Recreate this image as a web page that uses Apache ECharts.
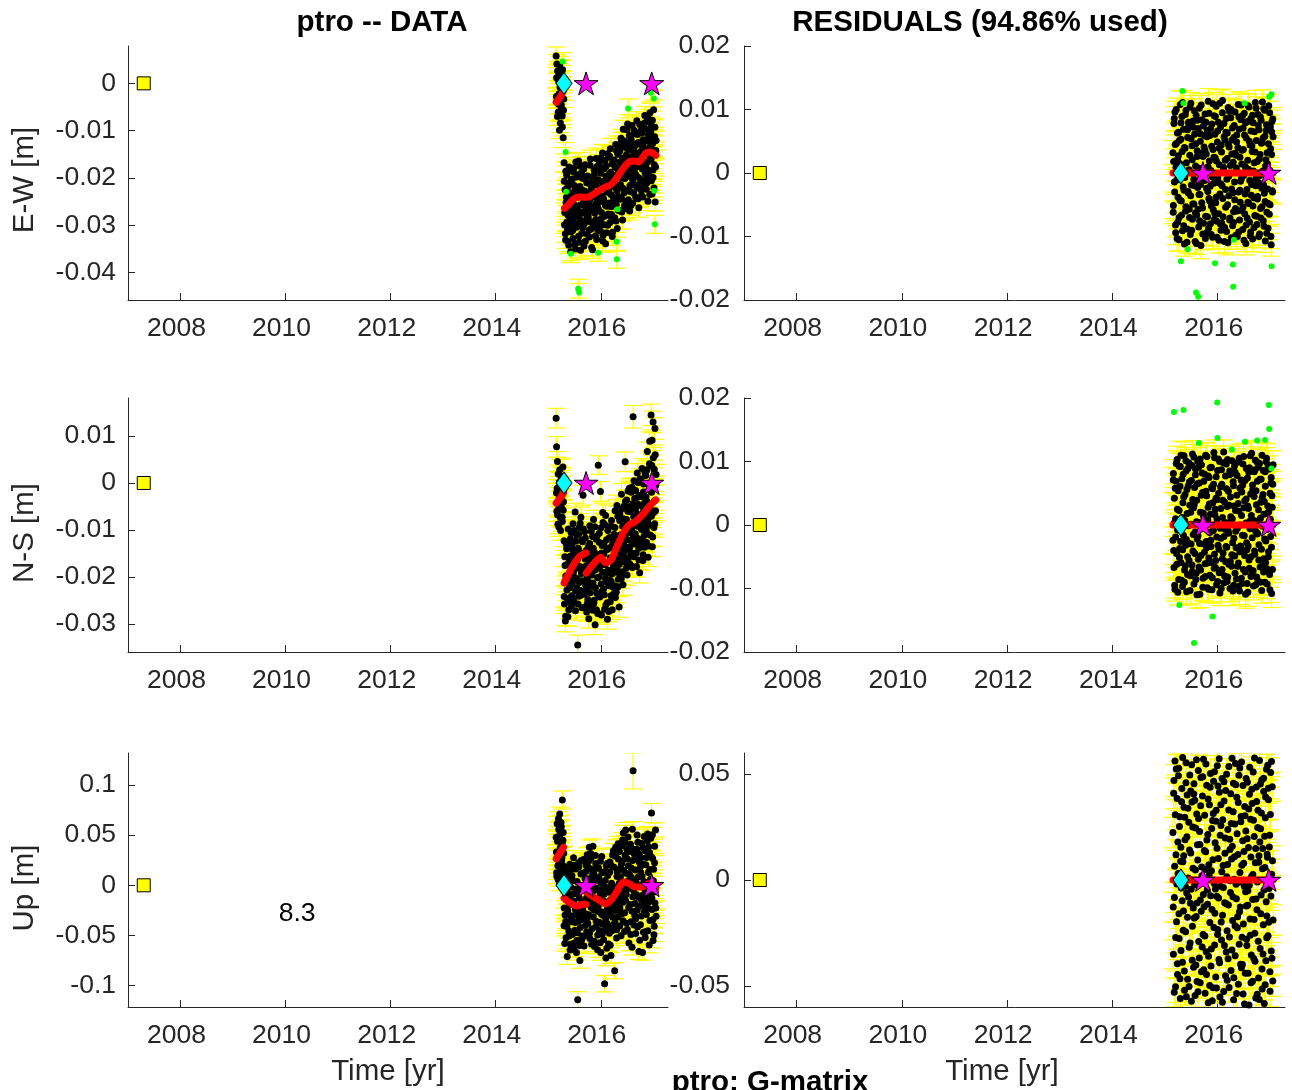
<!DOCTYPE html>
<html>
<head>
<meta charset="utf-8">
<script src="https://cdn.jsdelivr.net/npm/echarts@6/dist/echarts.min.js"></script>
<style>
  html, body { margin: 0; padding: 0; background: #ffffff; }
  #chart { width: 1292px; height: 1090px; }
</style>
</head>
<body>
<div id="chart"></div>
<script>
// ---------------------------------------------------------------
// Station ptro: GPS positions (E-W, N-S, Up) and fit residuals
// ---------------------------------------------------------------
const STATION = 'ptro';
const USED_PERCENT = '94.86';
const COMPONENT_NAMES = ['E-W [m]', 'N-S [m]', 'Up [m]'];
const TIME_LABEL = 'Time [yr]';
const UP_NOTE = '8.3';
const UP_NOTE_AT = [2010.22, -0.028];

// epochs, days counted from 2015-01-01
const epochDay = [
  55, 58, 62, 65, 69, 73, 76, 80, 84, 87,
  91, 95, 98, 102, 106, 110, 113, 117, 121, 124,
  128, 132, 135, 139, 143, 146, 150, 154, 157, 161,
  165, 168, 172, 176, 179, 183, 187, 190, 194, 198,
  201, 205, 209, 212, 216, 220, 223, 227, 231, 234,
  238, 242, 245, 249, 253, 256, 260, 264, 267, 271,
  275, 278, 282, 286, 289, 293, 297, 300, 304, 308,
  311, 315, 319, 322, 326, 330, 333, 337, 341, 344,
  348, 352, 355, 359, 363, 366, 370, 374, 377, 381,
  385, 388, 392, 396, 399, 403, 407, 410, 414, 418,
  421, 425, 429, 432, 436, 440, 443, 447, 451, 454,
  458, 462, 465, 469, 473, 476, 480, 484, 487, 491,
  495, 498, 502, 506, 509, 513, 517, 520, 524, 528,
  531, 535, 539, 542, 546, 550, 553, 557, 561, 564,
  568, 572, 575, 579, 583, 586, 590, 594, 597, 601,
  605, 608, 612, 616, 619, 623, 627, 630, 634, 638,
  641, 645, 649, 652, 656, 660, 663, 667, 671, 674,
  678, 682, 685, 689, 693, 696, 700, 704, 707, 711,
  715, 718, 722, 726, 729, 733, 737, 740, 744, 748,
  57, 60, 64, 67, 71, 74, 78, 82, 86, 89,
  93, 97, 100, 104, 108, 111, 115, 119, 122, 126,
  130, 134, 137, 141, 145, 148, 152, 156, 159, 163,
  167, 170, 174, 178, 181, 185, 189, 192, 196, 200,
  203, 207, 211, 214, 218, 222, 225, 229, 233, 236,
  240, 244, 247, 251, 255, 258, 262, 266, 269, 273,
  277, 280, 284, 288, 291, 295, 299, 302, 306, 310,
  313, 317, 321, 324, 328, 332, 335, 339, 343, 346,
  350, 354, 357, 361, 365, 368, 372, 376, 379, 383,
  387, 390, 394, 398, 401, 405, 409, 412, 416, 420,
  423, 427, 431, 434, 438, 442, 445, 449, 453, 456,
  460, 464, 467, 471, 475, 478, 482, 486, 489, 493,
  497, 500, 504, 508, 511, 515, 519, 522, 526, 530,
  533, 537, 541, 544, 548, 552, 555, 559, 563, 566,
  570, 574, 577, 581, 585, 588, 592, 596, 599, 603,
  607, 610, 614, 618, 621, 625, 629, 632, 636, 640,
  643, 647, 651, 654, 658, 662, 665, 669, 673, 676,
  680, 684, 687, 691, 695, 698, 702, 706, 709, 713,
  717, 720, 724, 728, 731, 735, 739, 742, 746, 750
];

// positions (mm)
const ewData = [
  5.8, 1.2, -3.5, 2.6, -6.1, 0.4, -2.2, 3.9, -8.4, -1.0,
  -4.6, 1.8, -9.2, -0.3, -5.7, -16.8, -29.9, -22.5, -33.1, -25.2,
  -19.4, -30.6, -27.8, -21.3, -34.2, -24.9, -28.7, -18.5, -31.4, -23.6,
  -27.1, -20.2, -32.8, -25.5, -17.9, -29.6, -22.4, -35.0, -26.3, -19.8,
  -30.1, -23.0, -27.9, -16.4, -33.6, -21.8, -25.7, -29.2, -18.9, -31.7,
  -22.6, -27.4, -20.1, -34.4, -24.5, -17.2, -29.0, -26.1, -21.0, -31.9,
  -19.6, -28.3, -23.3, -32.5, -25.9, -16.0, -30.8, -22.2, -27.0, -35.2,
  -21.5, -26.7, -18.3, -30.3, -24.1, -28.8, -15.9, -33.0, -22.9, -26.2,
  -20.4, -29.5, -16.9, -25.0, -31.2, -19.0, -27.3, -23.8, -14.7, -32.1,
  -24.4, -18.1, -28.1, -21.2, -33.9, -17.5, -26.0, -22.7, -30.0, -15.6,
  -25.3, -19.2, -29.4, -13.8, -23.5, -27.7, -17.0, -31.5, -20.6, -24.8,
  -16.2, -28.4, -22.0, -12.9, -25.6, -19.4, -30.7, -15.0, -23.9, -18.6,
  -26.9, -14.3, -21.4, -11.6, -24.2, -17.8, -28.9, -13.1, -20.0, -23.1,
  -12.2, -22.8, -16.4, -26.5, -9.8, -19.7, -14.0, -24.6, -18.2, -11.0,
  -21.6, -13.4, -25.8, -17.1, -8.9, -20.3, -15.3, -23.2, -10.7, -18.8,
  -14.6, -24.0, -19.5, -7.9, -17.6, -22.1, -12.5, -26.3, -15.8, -10.2,
  -20.9, -13.0, -23.7, -9.4, -17.3, -11.9, -21.2, -15.1, -6.8, -19.0,
  -12.0, -22.4, -8.1, -16.7, -24.9, -10.9, -18.4, -13.6, -6.2, -20.5,
  -16.1, -9.0, -23.4, -12.7, -19.9, -5.6, -17.2, -11.3, -25.1, -14.2,
  -2.8, 4.1, -7.0, 0.9, -4.4, 2.3, -9.9, -0.8, 3.0, -5.5,
  0.6, -6.9, 2.9, -11.5, -3.3, -20.7, -27.3, -31.8, -18.6, -24.1,
  -29.3, -22.0, -33.5, -26.4, -17.7, -30.0, -23.2, -35.6, -20.5, -27.5,
  -23.9, -31.1, -18.7, -28.2, -21.6, -34.0, -25.9, -16.6, -30.4, -22.7,
  -26.8, -19.3, -32.3, -24.0, -28.6, -17.5, -35.3, -22.5, -27.2, -20.0,
  -30.5, -25.3, -18.1, -29.7, -22.8, -33.4, -26.6, -19.7, -28.0, -23.7,
  -27.7, -21.1, -31.0, -24.7, -17.3, -29.3, -22.9, -34.7, -26.0, -20.3,
  -29.8, -23.1, -19.2, -27.4, -32.2, -21.4, -25.3, -17.6, -30.9, -24.3,
  -26.7, -18.2, -30.1, -22.1, -15.8, -28.6, -24.9, -20.8, -33.3, -17.9,
  -21.9, -29.9, -16.3, -25.8, -19.7, -31.6, -23.0, -14.9, -27.6, -20.1,
  -22.2, -15.4, -28.0, -18.8, -26.1, -21.3, -32.4, -16.6, -24.0, -19.5,
  -25.1, -17.7, -21.5, -29.1, -14.3, -22.7, -18.1, -26.8, -13.5, -21.8,
  -16.7, -24.5, -19.9, -12.4, -27.2, -15.8, -22.2, -9.7, -18.4, -25.8,
  -20.1, -13.5, -25.0, -15.1, -19.2, -8.6, -22.6, -16.9, -12.8, -27.0,
  -15.9, -22.9, -11.9, -19.6, -14.1, -25.3, -17.9, -9.9, -21.4, -13.2,
  -19.3, -12.8, -21.8, -16.2, -10.8, -24.4, -14.8, -20.0, -8.7, -17.4,
  -14.4, -22.6, -10.5, -18.1, -24.0, -12.6, -16.4, -8.4, -20.2, -13.9,
  -17.8, -9.7, -21.0, -14.9, -7.4, -19.3, -12.3, -23.5, -15.6, -10.4,
  -20.6, -13.8, -7.8, -18.3, -11.6, -22.1, -15.0, -9.3, -17.7, -12.1
];
const nsData = [
  13.8, 7.7, -1.2, -6.8, 1.9, -9.3, -3.0, 2.8, -7.4, -0.6,
  -5.1, 0.7, -8.2, 3.4, -4.0, -12.3, -25.8, -17.6, -28.4, -21.1,
  -14.0, -24.6, -19.9, -9.8, -27.0, -16.7, -22.3, -11.9, -20.8, -26.2,
  -13.2, -21.5, -8.7, -18.9, -25.3, -15.4, -6.2, -23.0, -17.1, -11.1,
  -20.4, -34.5, -13.9, -24.1, -9.5, -17.8, -22.9, -7.3, -19.3, -26.6,
  -12.5, -2.6, -18.0, -23.7, -10.4, -16.2, -21.8, -14.4, -27.5, -20.1,
  -24.8, -13.6, -28.9, -17.0, -9.1, -22.0, -15.8, -26.1, -19.6, -11.4,
  -21.3, -7.8, -25.0, -14.8, -30.2, -18.4, -12.0, -23.5, -16.9, -27.8,
  3.8, -20.0, -10.7, -24.3, -1.8, -15.1, -28.1, -13.3, -19.0, -8.4,
  -22.6, -12.8, -26.9, -17.4, -6.9, -21.0, -14.2, -25.5, -10.1, -18.6,
  -27.4, -11.6, -20.7, -15.9, -24.0, -8.0, -19.4, -13.0, -22.2, -17.7,
  -10.9, -21.9, -5.9, -16.6, -23.3, -12.4, -18.2, -7.1, -20.5, -14.6,
  -17.3, -6.5, -19.7, -11.0, -2.4, -15.2, -9.2, -21.7, -12.9, -4.9,
  -14.5, 4.5, -8.8, -18.1, -3.6, -12.1, -6.0, -16.0, -10.5, -1.1,
  -13.6, -5.3, -17.6, -9.7, -0.9, -12.6, 14.1, -7.2, -15.7, -3.3,
  -10.8, -1.6, -14.9, -6.6, 2.1, -11.8, -4.6, -16.4, -8.5, 0.9,
  -13.1, -2.9, -9.9, 3.1, -6.4, -15.3, -0.2, -11.2, -4.1, -8.9,
  1.6, -10.2, -3.9, 6.7, -7.7, -13.4, -1.4, 4.1, -9.0, -5.6,
  14.5, -2.0, 9.1, -11.5, 13.0, -6.3, 2.9, -8.7, 6.0, -0.5,
  -2.1, -6.0, 4.6, -8.8, -0.9, -5.2, 0.2, -3.8, -10.1, 1.4,
  -2.7, -7.3, 1.0, -5.8, -1.5, -24.2, -15.7, -29.4, -19.8, -13.1,
  -22.8, -17.3, -28.5, -12.7, -21.7, -25.1, -15.6, -19.4, -10.6, -24.0,
  -19.7, -14.3, -24.7, -10.1, -20.0, -16.5, -27.2, -12.4, -18.1, -22.5,
  -16.3, -25.8, -11.0, -21.2, -14.7, -8.6, -23.9, -18.5, -12.2, -20.8,
  -18.8, -9.8, -23.1, -15.2, -26.4, -11.7, -17.7, -22.6, -16.0, -25.6,
  -20.9, -15.0, -26.7, -12.9, -23.4, -18.2, -10.3, -21.4, -14.6, -27.1,
  -13.9, -25.6, -18.6, -9.3, -22.3, -16.1, -27.0, -11.3, -20.2, -15.5,
  -24.0, -12.6, -18.0, -27.9, -9.6, -21.5, -14.9, -23.0, -6.3, -17.2,
  -15.2, -23.8, -8.9, -20.3, -26.0, -12.1, -18.9, -29.0, -14.0, -21.9,
  -19.2, -13.8, -25.3, -9.2, -21.0, -16.4, -27.0, -11.9, -18.0, -23.6,
  -17.5, -9.5, -24.4, -13.8, -19.0, -4.8, -15.9, -22.1, -11.3, -26.4,
  -8.0, -16.3, -13.4, -20.4, -5.5, -14.0, -18.9, -7.6, -11.8, -16.8,
  -11.3, -3.9, -15.9, -7.8, -19.6, -9.9, -1.7, -13.8, -5.1, -17.2,
  -6.1, -14.8, -2.0, -10.6, -18.0, -4.4, -11.5, 0.5, -8.3, -13.0,
  -5.5, -12.4, -17.8, -3.1, -9.2, 0.1, -13.9, -6.9, -19.1, -2.6,
  -9.4, 0.4, -12.0, -5.0, -16.5, -1.9, -7.8, -13.7, 2.2, -10.5,
  -3.0, -12.7, 2.8, -8.4, -15.8, -0.3, -6.5, 8.9, -11.1, -4.4,
  -7.1, 3.7, -13.6, -1.2, 5.4, -9.5, -3.8, 11.6, -5.9, 1.8
];
const upData = [
  48.0, 12.5, 61.3, 30.2, 5.8, 55.7, 22.1, 71.0, 37.6, 15.9,
  58.4, 27.3, 85.0, 44.9, 19.2, -40.2, 8.7, -29.5, 15.6, -52.3,
  -6.1, -71.0, -24.8, 12.0, -45.6, -14.3, 20.9, -58.7, -2.0, -33.4,
  9.5, -48.9, -19.1, 27.4, -63.2, -8.4, -37.0, 16.3, -26.6, -55.0,
  3.7, -114.0, -30.8, 22.5, -12.7, -75.0, -41.9, 11.2, -21.5, -50.6,
  -4.3, -34.1, 25.6, -60.4, -16.0, 6.9, -28.2, 14.1, -46.5, 30.5,
  -37.8, 18.2, -3.5, 38.0, -52.9, -19.8, 27.0, -9.9, -43.2, 10.6,
  39.0, -24.3, 5.4, -61.0, -13.1, 21.7, -35.7, -2.8, 16.9, -49.4,
  -20.7, 8.0, -45.0, -6.3, 24.0, -67.0, -28.8, 12.4, -38.6, 1.3,
  -54.1, -15.5, -98.0, 4.9, -33.0, 19.5, -62.6, -24.0, 9.8, -41.4,
  -7.0, -47.7, 23.3, -29.9, -70.0, 2.1, -18.7, 30.1, -39.5, -11.4,
  18.0, -85.0, -25.1, 38.0, -6.7, -44.3, 13.5, -31.6, 26.2, -15.9,
  33.6, -22.4, 8.3, -50.2, 21.0, -4.8, 45.1, -35.3, 14.7, -12.0,
  -27.4, 29.9, 55.0, -8.9, 36.3, -44.0, 4.2, 19.6, -57.5, 11.0,
  -19.0, 40.8, -36.2, 7.6, -61.8, 24.7, 114.0, -5.5, 31.4, -30.0,
  15.2, -48.1, 2.6, 35.9, -24.6, 43.0, -11.8, -66.0, 22.9, -1.2,
  -39.3, 27.8, -14.6, 9.0, -67.0, 37.2, -20.3, 48.6, -3.9, -52.0,
  20.4, -29.0, 3.1, 44.5, -45.2, 12.8, -16.4, 32.7, -35.0, 6.0,
  -9.6, 72.0, -24.1, 26.8, -55.0, 16.1, -40.7, 38.9, -6.4, -22.7,
  33.1, 8.9, 44.0, 19.6, 66.2, 27.7, 1.4, 50.9, 35.3, 62.6,
  24.0, 41.7, 10.3, 52.5, 31.9, -22.7, -58.0, 3.0, -35.9, -12.0,
  -41.0, -1.6, -27.9, 8.3, -50.6, -18.8, -64.4, 15.0, -30.5, -9.2,
  -36.4, 4.8, -57.9, -15.8, 19.9, -44.7, -24.1, -3.6, -66.9, -29.6,
  -47.3, -8.0, 18.1, -35.4, -60.0, -1.0, -26.5, 24.8, -54.3, -16.9,
  -22.9, 12.3, -50.7, -31.1, 0.4, -40.1, 20.0, -12.6, -33.8, 6.6,
  3.5, -29.3, 24.4, -47.6, -14.9, 31.8, -22.2, -58.6, 16.1, -6.0,
  -31.4, 11.7, -55.8, -4.5, 29.8, -40.9, -18.0, 6.7, -64.1, -26.2,
  17.2, -36.9, -11.0, -57.2, 2.7, -26.3, 28.6, -48.4, -3.9, -30.0,
  -9.0, -44.8, 13.8, -29.1, -72.3, -2.1, -37.7, 21.9, -20.6, -58.4,
  -25.2, 12.9, -59.6, -14.1, 19.8, -45.3, -3.3, -31.8, 34.5, -22.6,
  -1.9, -37.1, 28.9, -17.2, -52.4, 8.8, -24.7, 41.3, -11.2, 2.0,
  -40.5, 16.6, -6.0, 39.4, -28.3, 24.3, -16.8, 52.2, -2.7, -46.1,
  42.6, -14.8, 12.1, -37.9, 26.4, -3.4, 48.2, -22.0, 0.7, 33.7,
  9.4, -48.9, 17.3, -25.7, 55.8, -11.4, 36.0, -39.5, 4.0, -18.2,
  -33.6, 26.0, -9.3, 50.1, -41.4, 8.2, -20.9, 31.0, -54.8, 18.7,
  13.0, -30.5, 41.6, -10.1, 21.3, -46.8, 3.8, -25.9, 34.4, -14.0,
  -46.0, 27.6, -8.5, 51.0, -22.8, 38.4, -59.5, 15.7, -3.1, 46.8,
  28.3, -12.8, 50.3, -34.4, 4.6, -49.2, 22.5, -17.5, 55.1, -30.8
];

// residuals after removing the trajectory model (mm)
const ewResid = [
  3.2, -5.1, 7.8, -1.4, 9.6, -8.2, 0.9, 4.7, -10.3, 2.2,
  -3.8, 6.4, -7.0, 1.5, 10.8, 5.3, -4.4, 8.9, -9.1, -0.6,
  6.9, -2.7, -11.2, 3.9, -6.0, 9.9, 0.2, -8.8, 5.6, -3.1,
  7.4, -5.7, 2.8, -9.7, 11.0, -1.9, 4.3, -7.3, 8.2, -0.1,
  -4.9, 6.1, -10.8, 1.1, 9.1, -6.6, 3.5, -2.3, 7.0, -8.5,
  10.2, -3.4, 5.0, -11.4, 0.7, 8.4, -5.5, 2.6, -7.9, 4.1,
  -1.2, 9.3, -6.8, 3.0, -9.4, 6.7, -2.9, 11.3, -4.0, 1.9,
  5.9, -8.0, 0.4, -5.2, 7.7, -10.1, 3.7, -1.6, 9.0, -6.3,
  2.4, -4.7, 10.5, -7.6, 4.9, -0.8, 8.0, -10.6, 1.3, -3.3,
  7.2, -9.0, 3.3, -2.0, 11.4, -6.9, 0.5, 5.7, -8.6, 2.0,
  -5.4, 8.6, -1.0, 6.3, -11.0, 4.5, -3.6, 9.7, -7.1, 0.0,
  10.0, -2.5, 5.2, -8.3, 1.7, -6.1, 7.5, -4.2, 3.1, -9.8,
  0.8, 6.0, -10.0, 4.0, -3.0, 8.8, -7.4, 2.5, -1.3, 10.7,
  -5.9, 3.6, -8.9, 7.1, -0.4, 9.4, -6.4, 1.0, -11.1, 5.5,
  -2.6, 8.1, -4.6, 0.6, 10.4, -7.7, 4.4, -9.3, 6.6, -1.8,
  3.4, -10.4, 7.9, -3.9, 1.6, -6.7, 11.1, -0.9, 5.1, -8.1,
  -4.1, 9.2, -1.5, 6.8, -9.6, 2.9, -5.6, 8.3, -2.4, 4.8,
  0.3, -7.5, 10.1, -3.2, 5.8, -10.7, 2.1, 7.6, -6.2, 1.4,
  -8.7, 4.6, -0.2, 9.5, -5.0, 3.8, -11.3, 6.5, -2.8, 8.5,
  -6.2, 1.8, 8.6, -3.0, 4.5, -9.4, 10.0, -1.1, 6.3, -7.7,
  2.7, -10.5, 5.1, -4.3, 0.0, 7.9, -6.6, 3.4, 11.1, -2.2,
  -8.3, 4.0, -0.7, 9.2, -5.3, 1.6, -10.9, 6.8, -2.9, 8.0,
  0.5, -7.0, 10.4, -3.6, 5.4, -9.0, 2.1, -4.9, 7.2, -1.0,
  9.8, -2.0, -6.3, 4.6, -11.1, 2.6, 8.3, -5.7, 0.8, -3.4,
  -7.5, 6.2, -1.8, 10.7, -4.7, 3.1, -9.6, 7.4, -0.3, 5.9,
  3.6, -10.3, 8.0, -2.4, 5.7, -6.9, 1.0, -8.7, 9.4, -4.4,
  -2.1, 7.0, -9.7, 4.2, -0.6, 10.9, -5.8, 2.5, -7.3, 6.1,
  8.9, -3.8, 1.9, -10.1, 6.6, -1.5, -6.4, 3.9, 11.0, -8.0,
  -1.7, 4.4, -7.9, 9.5, -4.0, 0.9, 7.8, -10.8, 5.2, -2.6,
  6.4, -9.2, 2.3, -5.0, 10.3, -0.5, 4.1, -7.4, 1.2, 8.7,
  -10.2, 3.0, 7.1, -3.1, -7.8, 5.6, -1.4, 9.6, -5.6, 2.8,
  4.9, -6.0, 0.1, 10.8, -9.3, 6.9, -2.7, -4.6, 8.4, -0.9,
  1.4, 9.0, -5.4, 3.7, -10.6, 6.0, -3.3, 7.9, -8.2, 0.6,
  -7.1, 2.0, 10.6, -4.8, 5.0, -1.2, -9.9, 8.6, -3.5, 4.3,
  9.1, -5.2, 0.3, -8.6, 6.5, 3.3, -2.0, 10.2, -6.8, 1.8,
  -3.7, 7.5, -10.0, 2.2, -0.4, 8.8, -7.1, 4.7, -5.3, 11.2,
  5.5, -1.9, -8.4, 9.9, -4.5, 1.1, 6.7, -9.5, 3.2, -2.5,
  -4.8, 10.6, -6.5, 0.4, 7.3, -10.0, 2.9, 8.1, -3.0, 5.7
];
const nsResid = [
  -2.4, 8.1, -6.7, 4.2, -10.1, 1.0, 6.9, -4.5, 10.3, -0.8,
  5.4, -8.6, 2.3, -3.7, 9.2, -5.9, 0.6, 7.3, -9.7, 3.5,
  -1.6, 10.9, -7.1, 4.8, -3.2, 8.5, -10.5, 1.8, -5.0, 6.2,
  9.8, -2.9, 3.1, -8.0, 0.1, 7.0, -6.3, 11.2, -4.1, 2.7,
  -9.3, 5.9, -1.1, 8.8, -7.6, 3.9, -2.2, 10.0, -5.4, 0.4,
  6.6, -10.9, 2.0, -4.8, 9.5, -0.3, 5.1, -8.4, 1.4, -3.0,
  8.0, -6.1, 11.0, -2.6, 4.6, -9.9, 0.8, 7.7, -5.2, 3.3,
  -7.9, 1.7, -3.4, 9.1, -10.2, 5.7, -0.9, 6.4, -6.8, 10.6,
  2.5, -5.6, 7.6, -1.9, 4.0, -8.9, 10.4, -3.8, 0.0, -10.7,
  6.0, -2.1, 8.7, -7.0, 1.2, -4.4, 11.5, -9.1, 3.6, -0.7,
  -5.8, 9.6, -3.5, 2.9, -8.2, 5.3, -1.3, 7.9, -10.0, 4.4,
  0.9, -6.5, 10.1, -2.8, 6.8, -9.5, 3.0, -4.9, 8.3, -1.0,
  -8.5, 4.7, -0.5, 9.9, -6.0, 2.2, -10.4, 5.8, -3.3, 7.1,
  1.5, -9.2, 6.3, -4.0, 10.8, -1.7, 3.8, -7.4, 0.3, 8.9,
  -3.9, 7.4, -10.6, 2.6, -5.5, 9.0, -0.6, 4.9, -8.1, 11.3,
  -2.0, 5.5, -7.2, 0.7, 8.4, -4.6, 10.2, -9.4, 3.2, -1.4,
  6.9, -8.8, 2.4, -3.1, 9.7, -6.6, 1.1, 7.2, -10.3, 4.3,
  -0.2, 8.6, -5.3, 3.7, -9.0, 6.1, -2.5, 10.5, -6.9, 1.9,
  9.4, -4.2, 0.5, -7.8, 5.0, -1.8, 7.5, -10.8, 2.8, 6.4,
  7.1, -4.0, 0.3, -9.5, 5.8, -1.9, 9.7, -6.2, 2.5, -10.6,
  -0.4, 9.3, -5.1, 6.1, -2.6, 11.0, -8.7, 1.2, -3.9, 8.0,
  4.4, -9.0, 0.7, -6.4, 10.1, -2.3, 5.6, -7.8, 8.9, -0.1,
  -5.6, 6.8, -10.3, 2.0, -3.0, 9.4, -7.3, 4.0, -1.5, 10.7,
  3.2, -4.5, 7.9, -8.6, 0.5, -11.0, 6.5, -1.7, 9.1, -6.6,
  -2.9, 10.4, -7.1, 4.7, -0.6, 8.2, -9.8, 1.9, 6.9, -4.3,
  0.2, -8.1, 5.3, -3.6, 10.8, -6.0, 2.8, -10.1, 7.5, -1.2,
  9.0, -2.4, -5.9, 6.0, -8.3, 3.5, -0.8, 11.4, -4.6, 1.6,
  -6.7, 4.2, -9.4, 0.9, 8.6, -3.2, 5.0, -7.5, 10.0, -0.5,
  2.6, -10.0, 6.4, -5.3, 3.9, 9.8, -1.8, -8.0, 0.4, 7.7,
  -3.4, 5.7, -8.9, 10.3, -0.9, -6.2, 3.1, 8.5, -5.7, 1.3,
  8.1, -4.7, 1.0, -10.4, 6.2, -2.1, 9.3, -7.6, 2.3, -3.6,
  -0.3, 7.8, -6.5, 3.4, -9.7, 10.5, -4.2, 0.0, 5.9, -8.4,
  5.2, -1.6, 9.6, -7.0, 2.7, -4.8, 7.0, -10.9, 4.1, -2.8,
  -9.2, 3.0, -3.3, 8.3, -6.8, 0.6, 10.9, -5.0, 1.5, -7.7,
  6.3, -0.2, -9.6, 4.5, -4.1, 8.7, -1.0, 5.4, -8.2, 9.9,
  -1.3, 9.1, -5.5, 0.8, 7.2, -9.0, 3.6, -3.8, 11.0, -6.4,
  4.8, -7.4, 1.7, -2.2, 8.4, -5.9, 10.0, -0.7, -9.3, 3.0,
  -5.0, 2.1, 8.8, -10.2, 0.9, 6.6, -3.5, 4.6, -7.0, 9.5
];
const upResid = [
  22.4, -35.1, 47.0, -8.3, 56.2, -50.4, 11.9, -19.7, 38.5, -44.6,
  3.1, 52.8, -27.6, 29.9, -56.0, 15.5, -3.8, 43.2, -38.9, 8.6,
  -14.7, 34.4, -52.1, 19.0, -24.5, 55.4, -6.2, 40.1, -46.9, 0.9,
  27.3, -31.8, 49.6, -11.0, 12.7, -57.3, 36.8, -21.9, 5.5, -41.2,
  45.5, -2.4, -54.6, 24.6, -17.3, 31.2, -48.0, 9.4, 51.7, -29.1,
  -36.9, 16.8, -9.5, 48.4, -43.3, 2.0, 39.7, -25.8, 57.0, -12.6,
  30.6, -53.5, 13.3, -33.9, 44.8, -4.7, 21.5, -58.0, 7.2, 35.5,
  -20.1, 50.3, -40.6, 4.4, -13.9, 28.1, -50.9, 46.6, -1.6, -30.7,
  17.6, -45.8, 33.0, -7.7, 54.0, -23.4, 10.2, -37.5, 41.4, -55.3,
  -3.0, 25.7, -28.4, 47.9, -16.6, 6.8, -52.7, 37.3, -10.7, 19.8,
  42.3, -34.0, 1.5, -47.4, 23.8, -11.8, 53.6, -26.9, 14.4, -5.9,
  -42.7, 9.9, 57.5, -19.1, 32.2, -56.6, 0.3, 26.4, -35.8, 45.0,
  -8.9, 39.1, -22.6, 12.1, -49.3, 49.5, -15.0, 3.6, -39.8, 30.0,
  55.8, -27.1, 18.5, -53.9, 7.9, -2.9, 34.7, -44.1, 23.1, -12.3,
  -31.0, 46.2, -5.1, 15.3, -59.0, 40.5, -18.4, 28.7, -48.6, 1.8,
  36.1, -9.2, 51.0, -37.1, 20.6, -25.2, 8.1, -55.7, 43.9, -14.1,
  -1.0, 32.9, -46.3, 11.5, 56.5, -32.4, 24.2, -7.1, 47.2, -51.5,
  14.9, -21.2, 41.8, -58.4, 5.9, 29.4, -38.2, 52.3, -17.0, 10.8,
  -26.3, 37.9, -4.0, 21.2, -52.5, 50.8, -33.6, 2.7, 44.1, -47.7,
  -12.8, 41.0, -53.0, 6.5, 30.8, -27.2, 52.4, -1.9, -39.6, 18.0,
  49.2, -16.0, 25.3, -46.7, 8.9, -33.3, 37.0, -9.8, 57.9, -23.7,
  11.4, -43.0, 29.6, -2.9, 46.0, -55.1, 20.4, -17.6, 33.9, -8.0,
  -50.3, 14.2, -29.8, 42.1, -4.4, 54.5, -37.9, 25.0, -13.2, 40.6,
  -18.0, 37.7, 4.7, -40.2, 56.8, -10.9, 16.6, -52.8, 29.0, -1.3,
  22.9, -48.6, 35.1, -14.8, 6.1, -31.6, 48.8, -6.9, -42.4, 13.9,
  -26.5, 5.0, 54.8, -44.7, 18.9, -11.5, 38.3, -36.0, 2.3, -49.9,
  43.8, -7.4, -32.6, 24.3, -57.1, 9.6, 31.4, -22.4, 51.2, -15.7,
  -4.2, 27.8, -51.0, 15.0, -25.7, 44.4, -8.5, 57.3, -39.1, 21.1,
  35.6, -19.9, 3.9, -57.7, 28.5, -3.5, 46.4, -30.9, 12.6, -45.2,
  -11.1, 50.0, -24.0, 7.3, -37.2, 33.1, -50.8, 19.3, -0.4, 40.8,
  26.7, -33.1, 16.0, -7.9, 45.7, -46.2, 11.0, -21.6, 55.0, -2.0,
  -53.6, 21.8, -17.4, 36.6, -1.1, -30.3, 52.9, -12.7, 27.5, -41.5,
  7.0, -39.9, 44.7, -20.8, 13.5, -58.6, 30.3, -5.5, 48.0, -28.0,
  19.5, -11.9, -44.0, 33.5, -2.5, 53.3, -26.1, 10.9, -35.4, 42.9,
  -47.8, 2.6, 28.2, -18.7, 57.6, -38.4, 14.9, -9.0, 37.1, -54.0,
  24.8, -28.9, 8.4, -56.4, 17.9, 45.3, -15.9, 31.7, -42.0, 5.3,
  -35.0, 48.1, -4.7, 20.7, -49.5, 39.2, -10.3, -27.3, 12.2, 54.2,
  43.4, -20.0, 15.6, -43.3, 31.0, -7.5, 56.0, -37.0, 9.1, -18.9
];

// formal 1-sigma uncertainties (mm)
const ewSigma = [
  1.9, 2.1, 1.8, 2.0, 1.7, 1.9, 2.2, 1.8, 2.0, 1.9,
  1.8, 2.0, 1.9, 1.7, 2.1, 1.9, 1.8, 2.0, 1.8, 1.9,
  2.0, 1.8, 1.9, 2.1, 1.8, 1.7, 1.9, 2.0, 1.8, 2.2,
  1.9, 1.8, 2.0, 1.9, 1.7, 2.1, 1.8, 1.9, 2.0, 1.8,
  1.8, 2.2, 1.9, 1.8, 2.0, 1.9, 1.7, 1.8, 2.1, 1.9,
  2.0, 1.9, 1.8, 2.1, 1.9, 1.8, 2.0, 1.7, 1.9, 2.0,
  1.9, 1.7, 2.0, 1.8, 2.1, 1.9, 1.8, 2.0, 1.9, 1.8,
  2.1, 1.9, 1.8, 2.0, 1.7, 1.9, 2.2, 1.8, 1.9, 2.0,
  1.8, 2.0, 1.9, 1.8, 2.1, 1.7, 1.9, 2.0, 1.8, 1.9,
  1.9, 1.8, 2.1, 1.9, 1.8, 2.0, 1.9, 1.7, 2.0, 1.8,
  2.0, 1.9, 1.8, 2.2, 1.9, 1.8, 2.0, 1.9, 1.7, 1.9,
  1.8, 2.0, 1.9, 1.8, 2.0, 2.1, 1.8, 1.9, 2.0, 1.8,
  1.9, 1.8, 2.0, 1.9, 1.7, 2.0, 1.9, 1.8, 2.1, 1.9,
  2.0, 1.9, 1.8, 2.0, 1.9, 1.8, 2.1, 1.9, 1.8, 2.0,
  1.8, 1.9, 2.1, 1.8, 2.0, 1.9, 1.7, 2.0, 1.9, 1.8,
  1.9, 2.0, 1.8, 1.9, 2.1, 1.8, 1.9, 2.0, 1.8, 1.9,
  2.0, 1.8, 1.9, 2.0, 1.8, 1.9, 2.2, 1.8, 1.9, 2.0,
  1.9, 2.1, 1.8, 1.9, 2.0, 1.8, 1.9, 1.7, 2.0, 1.9,
  1.8, 1.9, 2.0, 1.8, 1.9, 2.1, 1.8, 2.0, 1.9, 1.8,
  1.8, 2.0, 1.9, 1.7, 2.1, 1.9, 1.8, 2.0, 1.9, 2.1,
  1.9, 1.8, 2.0, 2.1, 1.8, 1.9, 2.0, 1.8, 1.9, 1.7,
  1.8, 1.9, 2.1, 1.8, 2.0, 1.9, 1.7, 1.9, 2.0, 1.8,
  2.0, 1.9, 1.8, 2.0, 1.9, 1.8, 2.1, 1.9, 1.8, 2.0,
  1.9, 1.8, 2.0, 1.9, 1.7, 2.0, 1.9, 1.8, 2.0, 1.9,
  1.8, 2.1, 1.9, 1.8, 2.0, 1.9, 1.8, 2.0, 1.9, 1.7,
  2.0, 1.8, 1.9, 2.1, 1.8, 2.0, 1.9, 1.8, 1.9, 2.0,
  1.9, 2.0, 1.8, 1.9, 2.0, 1.8, 1.9, 2.1, 1.8, 1.9,
  1.8, 1.9, 2.0, 1.8, 1.9, 2.0, 1.8, 1.9, 2.1, 1.8,
  2.0, 1.8, 1.9, 2.0, 1.8, 1.9, 2.0, 1.8, 1.9, 2.0,
  1.9, 2.0, 1.8, 1.9, 2.1, 1.8, 1.9, 2.0, 1.8, 1.9,
  1.8, 1.9, 2.0, 1.8, 1.9, 1.7, 2.0, 1.9, 1.8, 2.0,
  2.0, 1.9, 1.8, 2.0, 1.9, 1.8, 2.0, 1.9, 1.8, 1.9,
  1.9, 1.8, 2.0, 1.9, 1.8, 2.0, 1.9, 1.8, 2.0, 1.9,
  1.8, 2.0, 1.9, 1.8, 1.9, 2.1, 1.8, 1.9, 2.0, 1.8,
  2.0, 1.8, 1.9, 2.0, 1.8, 1.9, 2.0, 1.8, 1.9, 2.1,
  1.9, 2.0, 1.8, 1.9, 2.0, 1.8, 1.9, 2.0, 1.8, 1.9,
  1.8, 1.9, 2.0, 1.8, 1.9, 2.0, 1.8, 1.9, 2.0, 1.8,
  2.0, 1.8, 1.9, 2.0, 1.8, 1.9, 2.0, 1.8, 1.9, 2.0
];
const nsSigma = [
  2.1, 2.2, 2.0, 2.3, 1.9, 2.1, 2.0, 2.2, 2.1, 2.0,
  2.2, 2.0, 2.1, 1.9, 2.3, 2.1, 2.0, 2.2, 2.0, 2.1,
  2.0, 2.2, 2.1, 2.0, 1.9, 2.3, 2.1, 2.0, 2.2, 2.1,
  2.1, 2.0, 2.3, 2.1, 2.0, 2.2, 1.9, 2.1, 2.0, 2.2,
  2.2, 2.1, 2.0, 2.1, 2.3, 2.0, 2.1, 2.2, 1.9, 2.0,
  2.0, 2.1, 2.2, 2.0, 2.1, 1.9, 2.3, 2.1, 2.0, 2.2,
  2.1, 2.2, 2.0, 2.1, 2.0, 2.2, 2.1, 1.9, 2.3, 2.0,
  2.2, 2.0, 2.1, 2.3, 2.1, 2.0, 2.2, 2.1, 2.0, 1.9,
  2.0, 2.1, 2.2, 2.0, 2.1, 2.3, 2.0, 2.1, 2.2, 2.0,
  2.1, 2.3, 2.0, 2.1, 2.2, 2.0, 1.9, 2.2, 2.1, 2.0,
  2.2, 2.0, 2.1, 2.2, 2.0, 2.1, 2.3, 2.0, 2.1, 2.2,
  2.0, 2.1, 2.3, 2.0, 2.2, 2.1, 2.0, 2.1, 1.9, 2.2,
  2.1, 2.2, 2.0, 2.1, 2.3, 2.0, 2.1, 2.2, 2.0, 2.1,
  2.0, 2.1, 2.2, 2.0, 2.1, 2.2, 2.0, 2.3, 2.1, 2.0,
  2.1, 2.0, 2.2, 2.1, 2.0, 2.2, 2.4, 2.1, 2.3, 2.0,
  2.1, 2.0, 2.2, 2.1, 2.0, 2.3, 2.1, 2.0, 2.2, 2.1,
  2.2, 2.1, 2.0, 2.1, 2.3, 2.0, 2.2, 2.1, 2.0, 2.1,
  2.0, 2.2, 2.1, 2.0, 2.1, 2.2, 2.0, 2.3, 2.1, 2.0,
  2.3, 2.1, 2.2, 2.0, 2.3, 2.1, 2.0, 2.2, 2.1, 2.0,
  2.0, 2.2, 2.1, 2.0, 2.3, 2.1, 2.0, 2.2, 2.1, 2.0,
  2.1, 2.0, 2.2, 2.1, 2.0, 2.2, 2.1, 2.3, 2.0, 2.1,
  2.2, 2.1, 2.0, 2.2, 2.1, 2.0, 2.3, 2.1, 2.0, 2.2,
  2.0, 2.2, 2.1, 2.0, 2.2, 2.1, 2.0, 2.1, 2.3, 2.0,
  2.1, 2.0, 2.2, 2.3, 2.0, 2.1, 2.2, 2.0, 2.1, 2.2,
  2.2, 2.1, 2.0, 2.1, 2.2, 2.0, 2.1, 2.3, 2.1, 2.0,
  2.0, 2.1, 2.3, 2.0, 2.1, 2.2, 2.0, 2.1, 2.2, 2.1,
  2.1, 2.2, 2.0, 2.1, 2.0, 2.3, 2.1, 2.0, 2.2, 2.0,
  2.2, 2.0, 2.1, 2.2, 2.1, 2.0, 2.2, 2.3, 2.0, 2.1,
  2.0, 2.1, 2.2, 2.0, 2.3, 2.1, 2.0, 2.1, 2.2, 2.0,
  2.1, 2.2, 2.0, 2.1, 2.2, 2.0, 2.1, 2.2, 2.0, 2.3,
  2.2, 2.0, 2.1, 2.3, 2.0, 2.2, 2.1, 2.0, 2.1, 2.2,
  2.0, 2.1, 2.2, 2.0, 2.1, 2.2, 2.0, 2.1, 2.3, 2.0,
  2.1, 2.3, 2.0, 2.1, 2.2, 2.0, 2.1, 2.2, 2.0, 2.1,
  2.2, 2.0, 2.1, 2.2, 2.0, 2.1, 2.3, 2.0, 2.1, 2.2,
  2.0, 2.1, 2.2, 2.0, 2.1, 2.2, 2.0, 2.1, 2.2, 2.0,
  2.1, 2.2, 2.0, 2.3, 2.1, 2.0, 2.2, 2.1, 2.0, 2.2,
  2.2, 2.0, 2.1, 2.2, 2.0, 2.1, 2.2, 2.0, 2.3, 2.1,
  2.0, 2.2, 2.1, 2.0, 2.2, 2.1, 2.0, 2.3, 2.1, 2.2
];
const upSigma = [
  7.2, 6.8, 7.5, 7.0, 6.6, 7.4, 7.1, 6.9, 7.6, 7.0,
  6.8, 7.3, 9.0, 7.1, 6.9, 7.4, 7.0, 6.7, 7.2, 7.5,
  7.0, 7.8, 6.9, 7.3, 7.1, 6.8, 7.4, 7.6, 7.0, 7.2,
  6.9, 7.5, 7.1, 7.0, 7.7, 6.8, 7.3, 7.0, 7.2, 7.4,
  7.1, 8.0, 7.0, 7.4, 6.9, 7.6, 7.2, 7.0, 7.3, 6.8,
  7.4, 7.0, 7.2, 7.5, 6.9, 7.1, 7.3, 6.8, 7.6, 7.0,
  7.0, 7.3, 6.9, 7.2, 7.6, 7.0, 7.4, 7.1, 6.8, 7.3,
  7.2, 6.9, 7.5, 7.1, 7.0, 7.3, 6.8, 7.4, 7.2, 7.0,
  6.9, 7.4, 7.1, 7.0, 7.3, 7.7, 6.9, 7.2, 7.5, 7.0,
  7.3, 7.0, 8.2, 7.1, 6.9, 7.4, 7.6, 7.0, 7.2, 7.1,
  7.0, 7.5, 7.2, 6.9, 7.8, 7.1, 7.0, 7.3, 7.4, 6.8,
  7.2, 8.1, 7.0, 7.4, 7.1, 6.9, 7.3, 7.0, 7.5, 7.2,
  7.1, 7.0, 7.3, 7.6, 6.9, 7.2, 7.4, 7.0, 7.1, 7.3,
  7.4, 7.1, 7.6, 6.9, 7.2, 7.5, 7.0, 7.3, 7.7, 7.0,
  7.2, 7.4, 7.0, 7.3, 7.6, 7.1, 18.0, 6.9, 7.4, 7.2,
  7.0, 7.3, 7.1, 7.5, 7.0, 7.4, 7.2, 7.8, 7.1, 6.9,
  7.3, 7.0, 7.2, 6.9, 7.6, 7.1, 7.3, 7.4, 7.0, 7.5,
  7.1, 7.4, 7.0, 7.3, 7.5, 6.9, 7.2, 7.1, 7.6, 7.0,
  7.2, 9.5, 7.1, 7.4, 7.3, 7.0, 7.5, 7.2, 6.9, 7.3,
  7.0, 7.3, 6.9, 7.4, 7.1, 7.2, 6.8, 7.5, 7.0, 7.3,
  7.1, 6.9, 7.4, 7.2, 7.0, 7.3, 7.6, 7.0, 7.2, 6.9,
  7.3, 7.0, 7.2, 6.9, 7.5, 7.1, 7.4, 7.0, 7.2, 7.1,
  7.0, 7.2, 7.5, 7.1, 6.9, 7.3, 7.0, 7.4, 7.6, 7.1,
  7.2, 6.9, 7.1, 7.4, 7.7, 7.0, 7.2, 7.3, 7.0, 7.4,
  7.1, 7.3, 7.0, 7.2, 6.9, 7.5, 7.1, 7.0, 7.3, 7.2,
  6.9, 7.2, 7.4, 7.0, 7.3, 7.1, 6.8, 7.5, 7.2, 7.0,
  7.3, 7.0, 7.1, 7.4, 7.2, 6.9, 7.3, 7.0, 7.6, 7.1,
  7.0, 7.4, 7.2, 7.1, 6.9, 7.3, 7.5, 7.0, 7.2, 7.4,
  7.2, 7.0, 7.3, 6.9, 7.8, 7.1, 7.2, 7.4, 7.0, 7.3,
  7.1, 7.3, 7.5, 7.0, 7.2, 7.4, 6.9, 7.1, 7.3, 7.0,
  7.4, 7.1, 7.0, 7.3, 7.6, 6.9, 7.2, 7.5, 7.0, 7.1,
  7.0, 7.2, 7.1, 7.4, 7.0, 7.3, 7.1, 7.6, 6.9, 7.2,
  7.3, 7.0, 7.4, 7.1, 7.2, 6.9, 7.5, 7.0, 7.3, 7.1,
  7.1, 7.4, 7.0, 7.2, 7.7, 7.0, 7.3, 7.1, 6.9, 7.4,
  7.2, 7.0, 7.3, 7.5, 7.1, 7.0, 7.2, 7.4, 7.6, 7.0,
  7.0, 7.3, 7.1, 7.0, 7.4, 7.2, 6.9, 7.3, 7.1, 7.5,
  7.3, 7.1, 7.0, 7.5, 7.2, 7.4, 7.7, 7.0, 7.1, 7.2,
  7.1, 7.2, 7.4, 7.0, 7.3, 6.9, 7.2, 7.5, 7.0, 7.3
];

// epochs rejected from the fit (green)
const ewOutDay   = [99, 121, 124, 157, 208, 215, 347, 475, 477, 482, 555, 712, 734, 736, 741];
const ewOutData  = [4.6, -14.5, -22.9, -36.0, -43.4, -44.2, -35.8, -33.5, -37.2, -26.6, -5.3, -2.0, -3.2, -22.7, -29.8];
const ewOutSigma = [1.9, 2.0, 1.8, 1.9, 2.0, 1.9, 1.8, 2.0, 1.9, 1.8, 2.0, 1.9, 1.8, 2.0, 1.9];
const ewOutResDay = [110, 121, 128, 157, 215, 230, 347, 471, 473, 478, 552, 723, 738, 740];
const ewOutResid  = [-13.9, 12.9, 11.0, -12.0, -18.8, -19.5, -14.2, -14.4, -17.9, -10.5, 11.0, 12.0, 12.4, -14.7];
const nsOutResDay = [62, 99, 128, 201, 234, 329, 362, 364, 464, 555, 639, 694, 720, 723, 738];
const nsOutResid  = [17.8, -12.6, 18.1, -18.6, 12.9, -14.4, 19.3, 13.7, 11.9, 13.1, 13.3, 13.4, 18.9, 15.1, 8.9];

// trajectory model (mm); null splits the curve at offsets
const ewModelDay = [55, 80, 106, null, 113, 139, 164, 190, 219, 248, 281, 310, 340, 369, 398, 424, 446, 475, 504, 533, 562, 595, 628, 654, 676, 705, 734, 748];
const ewModel    = [-4.0, -3.0, -1.6, null, -26.4, -25.7, -24.8, -24.2, -24.0, -24.1, -24.0, -23.5, -22.9, -22.4, -21.9, -21.6, -21.1, -20.0, -18.7, -17.5, -16.6, -16.4, -16.6, -15.8, -14.8, -14.5, -14.9, -15.2];
const nsModelDay = [55, 80, 106, null, 110, 121, 168, 215, 248, 262, null, 264, 318, 365, 398, 434, 478, 526, 562, 606, 654, 701, 734, 748];
const nsModel    = [-4.3, -3.3, -2.2, null, -21.3, -20.6, -17.8, -15.7, -15.1, -14.9, null, -19.2, -17.1, -15.8, -17.0, -16.5, -13.5, -10.4, -8.9, -8.2, -6.8, -5.0, -4.0, -3.6];
const upModelDay = [55, 80, 106, null, 110, 157, 201, 248, 262, null, 266, 307, 355, 398, 434, 478, 493, 526, 562, 606, 654, 701, 734, 748];
const upModel    = [26.5, 32.0, 38.0, null, -13.0, -18.2, -20.6, -18.5, -18.9, null, -7.0, -11.0, -14.9, -18.3, -14.9, -6.0, -1.7, 3.3, 1.7, -1.7, -1.7, 1.7, -1.7, -2.5];
const resModelDay = [55, 106, null, 110, 262, null, 264, 748];
const resModel    = [0, 0, null, 0, 0, null, 0, 0];

// reference epoch, equipment offset, earthquakes (decimal years)
const refYear = [2007.3];
const offsetYear = [2015.30];
const quakeYear = [2015.72, 2016.97];

// axis ticks and limits
const yearTicks = [2008, 2010, 2012, 2014, 2016];
const ewTicks = [-0.04, -0.03, -0.02, -0.01, 0];
const nsTicks = [-0.03, -0.02, -0.01, 0, 0.01];
const upTicks = [-0.1, -0.05, 0, 0.05, 0.1];
const resTicks = [-0.02, -0.01, 0, 0.01, 0.02];
const upResTicks = [-0.05, 0, 0.05];
const yearRange = [2007, 2017.28];
const yRanges = [[-0.0458, 0.0079], [-0.02, 0.02], [-0.036, 0.0181], [-0.02, 0.02], [-0.1212, 0.1318], [-0.06, 0.06]];

// ---------------------------------------------------------------
const FONT = '"Liberation Sans", Arial, Helvetica, sans-serif';
const AX = '#262626';
const TICK_FONT = 26.5;
const LABEL_FONT = 29.5;
const CAP = 18;
const STAR = 'path://M50,0 L61.8,36.2 L100,36.2 L69.1,58.8 L80.9,95.1 L50,72.7 L19.1,95.1 L30.9,58.8 L0,36.2 L38.2,36.2 Z';

const toYear = d => 2015 + d / 365.25;
const toM = v => v / 1000;

const points = (days, vals) => days.map((d, i) => [toYear(d), toM(vals[i])]);
const bars = (days, vals, sig) => days.map((d, i) => [toYear(d), toM(vals[i] - sig[i]), toM(vals[i] + sig[i])]);
const curve = (days, vals) => days.map((d, i) => (d === null ? ['-', '-'] : [toYear(d), toM(vals[i])]));

const grids = [
  { left: 128, top: 46, width: 540, height: 254 },
  { left: 744, top: 46, width: 541, height: 254 },
  { left: 128, top: 398, width: 540, height: 254 },
  { left: 744, top: 398, width: 541, height: 254 },
  { left: 128, top: 753, width: 540, height: 254 },
  { left: 744, top: 753, width: 541, height: 254 }
].map(g => Object.assign({ containLabel: false, outerBoundsMode: 'none', show: false }, g));

const yTickSets = [ewTicks, resTicks, nsTicks, resTicks, upTicks, upResTicks];

const xAxes = grids.map((g, i) => ({
  type: 'value', gridIndex: i, min: yearRange[0], max: yearRange[1],
  axisLine: { show: true, onZero: false, lineStyle: { color: AX, width: 1 } },
  axisTick: { show: true, inside: true, length: 7, customValues: yearTicks, lineStyle: { color: AX, width: 1 } },
  axisLabel: {
    show: true, customValues: yearTicks, color: AX, fontSize: TICK_FONT, fontFamily: FONT,
    margin: 15, padding: [0, 8, 0, 0], formatter: v => String(v)
  },
  splitLine: { show: false }
}));
const yAxes = grids.map((g, i) => ({
  type: 'value', gridIndex: i, min: yRanges[i][0], max: yRanges[i][1],
  axisLine: { show: true, onZero: false, lineStyle: { color: AX, width: 1 } },
  axisTick: { show: true, inside: true, length: 7, customValues: yTickSets[i], lineStyle: { color: AX, width: 1 } },
  axisLabel: {
    show: true, customValues: yTickSets[i], color: AX, fontSize: TICK_FONT, fontFamily: FONT,
    margin: i % 2 === 0 ? 12 : 14, formatter: v => String(v)
  },
  splitLine: { show: false }
}));

function barSeries(gi, data) {
  return {
    type: 'custom', xAxisIndex: gi, yAxisIndex: gi, z: 1, clip: true, silent: true,
    data: data, encode: { x: 0, y: [1, 2] },
    renderItem: function (params, api) {
      const x = api.value(0);
      const a = api.coord([x, api.value(1)]);
      const b = api.coord([x, api.value(2)]);
      const h = CAP / 2;
      const st = { stroke: '#ffff00', lineWidth: 1.2, fill: null };
      return {
        type: 'group', children: [
          { type: 'line', shape: { x1: a[0], y1: a[1], x2: b[0], y2: b[1] }, style: st },
          { type: 'line', shape: { x1: a[0] - h, y1: a[1], x2: a[0] + h, y2: a[1] }, style: st },
          { type: 'line', shape: { x1: b[0] - h, y1: b[1], x2: b[0] + h, y2: b[1] }, style: st }
        ]
      };
    }
  };
}
function dotSeries(gi, data, color, size, z) {
  return {
    type: 'scatter', xAxisIndex: gi, yAxisIndex: gi, data: data, symbol: 'circle', symbolSize: size,
    itemStyle: { color: color, opacity: 1 }, z: z, silent: true, clip: true
  };
}
function modelSeries(gi, data) {
  return {
    type: 'line', xAxisIndex: gi, yAxisIndex: gi, data: data, showSymbol: false, symbol: 'none',
    smooth: 0.3, connectNulls: false, z: 4, silent: true,
    lineStyle: { color: '#ff0000', width: 7, cap: 'round', join: 'round' }
  };
}
function markerSeries(gi) {
  return [
    {
      type: 'scatter', xAxisIndex: gi, yAxisIndex: gi, data: refYear.map(t => [t, 0]), symbol: 'rect', symbolSize: 13,
      itemStyle: { color: '#ffff00', borderColor: '#000000', borderWidth: 1, opacity: 1 }, z: 5, silent: true
    },
    {
      type: 'scatter', xAxisIndex: gi, yAxisIndex: gi, data: offsetYear.map(t => [t, 0]), symbol: 'diamond', symbolSize: [16, 22],
      itemStyle: { color: '#00ffff', borderColor: '#000000', borderWidth: 1, opacity: 1 }, z: 6, silent: true
    },
    {
      type: 'scatter', xAxisIndex: gi, yAxisIndex: gi, data: quakeYear.map(t => [t, 0]), symbol: STAR, symbolSize: 24,
      symbolKeepAspect: true,
      itemStyle: { color: '#ff00ff', borderColor: '#000000', borderWidth: 1, opacity: 1 }, z: 7, silent: true
    }
  ];
}

const series = [];
// E-W
series.push(barSeries(0, bars(epochDay, ewData, ewSigma).concat(bars(ewOutDay, ewOutData, ewOutSigma))));
series.push(dotSeries(0, points(epochDay, ewData), '#000000', 7, 2));
series.push(dotSeries(0, points(ewOutDay, ewOutData), '#00ff00', 6, 3));
series.push(modelSeries(0, curve(ewModelDay, ewModel)));
series.push(...markerSeries(0));
series.push(barSeries(1, bars(epochDay, ewResid, ewSigma)));
series.push(dotSeries(1, points(epochDay, ewResid), '#000000', 7, 2));
series.push(dotSeries(1, points(ewOutResDay, ewOutResid), '#00ff00', 6, 3));
series.push(modelSeries(1, curve(resModelDay, resModel)));
series.push(...markerSeries(1));
// N-S
series.push(barSeries(2, bars(epochDay, nsData, nsSigma)));
series.push(dotSeries(2, points(epochDay, nsData), '#000000', 7, 2));
series.push(modelSeries(2, curve(nsModelDay, nsModel)));
series.push(...markerSeries(2));
series.push(barSeries(3, bars(epochDay, nsResid, nsSigma)));
series.push(dotSeries(3, points(epochDay, nsResid), '#000000', 7, 2));
series.push(dotSeries(3, points(nsOutResDay, nsOutResid), '#00ff00', 6, 3));
series.push(modelSeries(3, curve(resModelDay, resModel)));
series.push(...markerSeries(3));
// Up
series.push(barSeries(4, bars(epochDay, upData, upSigma)));
series.push(dotSeries(4, points(epochDay, upData), '#000000', 7, 2));
series.push(modelSeries(4, curve(upModelDay, upModel)));
series.push(...markerSeries(4));
series.push({
  type: 'scatter', xAxisIndex: 4, yAxisIndex: 4, symbol: 'circle', symbolSize: 2, silent: true, z: 8,
  itemStyle: { color: 'rgba(0,0,0,0)' },
  data: [{ name: UP_NOTE, value: UP_NOTE_AT }],
  label: { show: true, position: 'inside', formatter: '{b}', color: '#000000', opacity: 1, fontSize: TICK_FONT, fontFamily: FONT }
});
series.push(barSeries(5, bars(epochDay, upResid, upSigma)));
series.push(dotSeries(5, points(epochDay, upResid), '#000000', 7, 2));
series.push(modelSeries(5, curve(resModelDay, resModel)));
series.push(...markerSeries(5));

function label(text, x, y, opts) {
  const o = opts || {};
  return {
    type: 'text', x: x, y: y, rotation: o.rotation || 0, silent: true, z: 100,
    style: {
      text: text, fill: o.color || AX,
      font: (o.bold ? 'bold ' : '') + LABEL_FONT + 'px ' + FONT,
      textAlign: 'center', textVerticalAlign: 'middle', align: 'center', verticalAlign: 'middle'
    }
  };
}

const graphics = [
  label(STATION + ' -- DATA', 382, 23, { bold: true, color: '#000000' }),
  label('RESIDUALS (' + USED_PERCENT + '% used)', 980, 23, { bold: true, color: '#000000' }),
  label(COMPONENT_NAMES[0], 25, 180, { rotation: Math.PI / 2 }),
  label(COMPONENT_NAMES[1], 25, 533, { rotation: Math.PI / 2 }),
  label(COMPONENT_NAMES[2], 25, 888, { rotation: Math.PI / 2 }),
  label(TIME_LABEL, 388, 1072),
  label(TIME_LABEL, 1002, 1072),
  label(STATION + ': G-matrix', 770, 1083, { bold: true, color: '#000000' })
];

const chart = echarts.init(document.getElementById('chart'), null, { renderer: 'canvas' });
chart.setOption({
  animation: false,
  backgroundColor: '#ffffff',
  textStyle: { fontFamily: FONT },
  grid: grids,
  xAxis: xAxes,
  yAxis: yAxes,
  series: series,
  graphic: graphics
});
</script>
</body>
</html>
